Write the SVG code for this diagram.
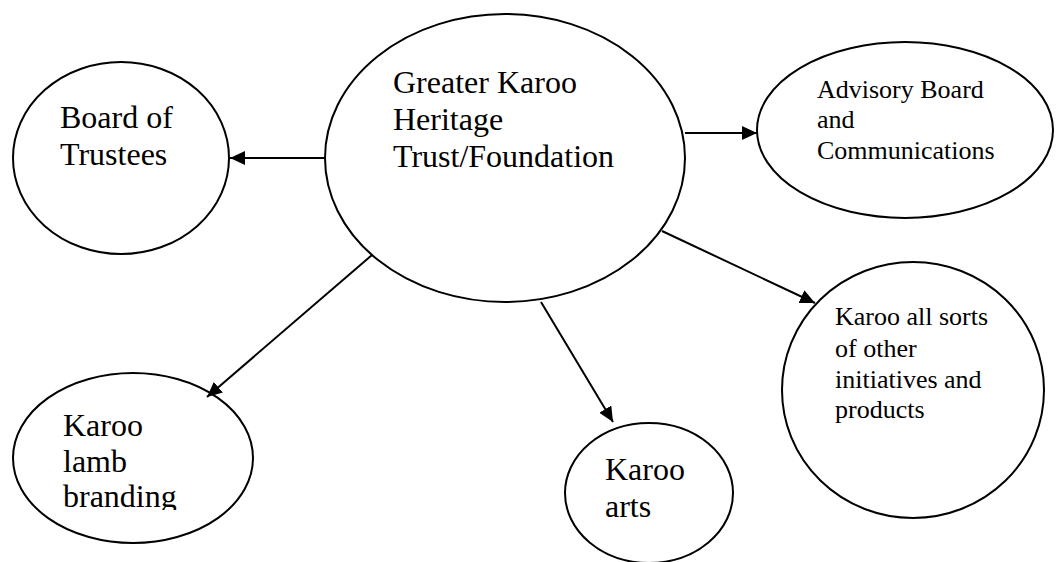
<svg xmlns="http://www.w3.org/2000/svg" width="1058" height="562" viewBox="0 0 1058 562">
<style>
.node{fill:#fff;stroke:#000;stroke-width:2}
.edge{stroke:#000;stroke-width:2;fill:none;marker-end:url(#arr)}
text{font-family:'Liberation Serif','Times New Roman',serif;fill:#000}
.big{font-size:32px}
.small{font-size:26px}
</style>
<defs>
<marker id="arr" markerUnits="userSpaceOnUse" markerWidth="15" markerHeight="14" refX="15" refY="7" orient="auto">
<path d="M0,0 L15,7 L0,14 z" fill="#000"/>
</marker>
<clipPath id="lambclip"><rect x="0" y="360" width="320" height="150"/></clipPath>
</defs>
<rect width="1058" height="562" fill="#fff"/>
<g id="main">
<ellipse class="node" cx="505" cy="158" rx="180" ry="144"/>
<text class="big" x="393" y="93">Greater Karoo</text>
<text class="big" x="393" y="130">Heritage</text>
<text class="big" x="393" y="167">Trust/Foundation</text>
</g>
<g id="board">
<ellipse class="node" cx="121" cy="158" rx="108" ry="96"/>
<text class="big" x="60" y="128">Board of</text>
<text class="big" x="60" y="165">Trustees</text>
</g>
<g id="advisory">
<ellipse class="node" cx="905" cy="130" rx="148" ry="88"/>
<text class="small" x="817" y="98">Advisory Board</text>
<text class="small" x="817" y="128">and</text>
<text class="small" x="817" y="159">Communications</text>
</g>
<g id="lamb">
<ellipse class="node" cx="133" cy="458" rx="120" ry="85"/>
<g clip-path="url(#lambclip)">
<text class="big" x="63" y="436">Karoo</text>
<text class="big" x="63" y="472">lamb</text>
<text class="big" x="63" y="507">branding</text>
</g>
</g>
<g id="arts">
<ellipse class="node" cx="649" cy="493" rx="84" ry="70"/>
<text class="big" x="605" y="480">Karoo</text>
<text class="big" x="605" y="517">arts</text>
</g>
<g id="other">
<ellipse class="node" cx="913" cy="390" rx="131" ry="128"/>
<text class="small" x="835" y="325">Karoo all sorts</text>
<text class="small" x="835" y="357">of other</text>
<text class="small" x="835" y="388">initiatives and</text>
<text class="small" x="835" y="418">products</text>
</g>
<g id="connectors">
<line class="edge" x1="325" y1="158" x2="230" y2="158"/>
<line class="edge" x1="685" y1="133" x2="757" y2="133"/>
<line class="edge" x1="372" y1="255" x2="207" y2="397"/>
<line class="edge" x1="541" y1="302" x2="613" y2="422"/>
<line class="edge" x1="662" y1="231" x2="815" y2="303"/>
</g>
</svg>
